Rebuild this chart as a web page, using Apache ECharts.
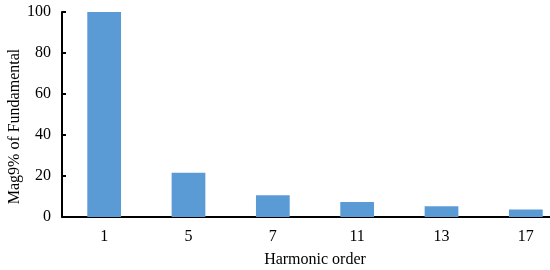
<!DOCTYPE html>
<html>
<head>
<meta charset="utf-8">
<script src="https://cdn.jsdelivr.net/npm/echarts@6/dist/echarts.min.js"></script>
<style>
  html, body { margin: 0; padding: 0; background: #fff; }
  #chart { width: 550px; height: 270px; }
</style>
</head>
<body>
<div id="chart"></div>
<script>
// 数据
let categories = ["1", "5", "7", "11", "13", "17"];       // 谐波次数
let magValues  = [100, 21.6, 10.6, 7.3, 5.2, 3.6];        // 占基波百分比
let yTicks     = [0, 20, 40, 60, 80, 100];                 // Y轴刻度

let chart = echarts.init(document.querySelector('#chart'));
let font = "'Liberation Serif', 'Times New Roman', serif";

let option = {
    animation: false,
    grid: {
        left: 62,
        top: 12,
        width: 506,
        height: 205,
        containLabel: false,
        outerBoundsMode: 'none'
    },
    xAxis: {
        type: 'category',
        data: categories,
        offset: 6,
        name: 'Harmonic order',
        nameLocation: 'middle',
        nameGap: 29,
        nameMoveOverlap: false,
        nameTextStyle: { fontFamily: font, fontSize: 16, color: '#000' },
        axisLine: { lineStyle: { color: '#000', width: 2 } },
        axisTick: { show: false },
        axisLabel: { fontFamily: font, fontSize: 16, color: '#000', margin: 6 }
    },
    yAxis: {
        type: 'value',
        min: yTicks[0],
        max: yTicks[yTicks.length - 1],
        interval: 20,
        name: 'Mag9% of Fundamental',
        nameLocation: 'middle',
        nameGap: 39,
        nameMoveOverlap: false,
        nameTextStyle: { fontFamily: font, fontSize: 16, color: '#000', padding: [0, 0, 0, -24] },
        axisLine: { show: true, onZero: false, lineStyle: { color: '#000', width: 2 } },
        axisTick: { show: true, inside: true, length: 4, lineStyle: { color: '#000', width: 2 } },
        axisLabel: { fontFamily: font, fontSize: 16, color: '#000', margin: 11 },
        splitLine: { show: false }
    },
    series: [{
        type: 'bar',
        data: magValues,
        barWidth: '40%',
        itemStyle: { color: '#5B9BD5' }
    }]
};
chart.setOption(option);
</script>
</body>
</html>
